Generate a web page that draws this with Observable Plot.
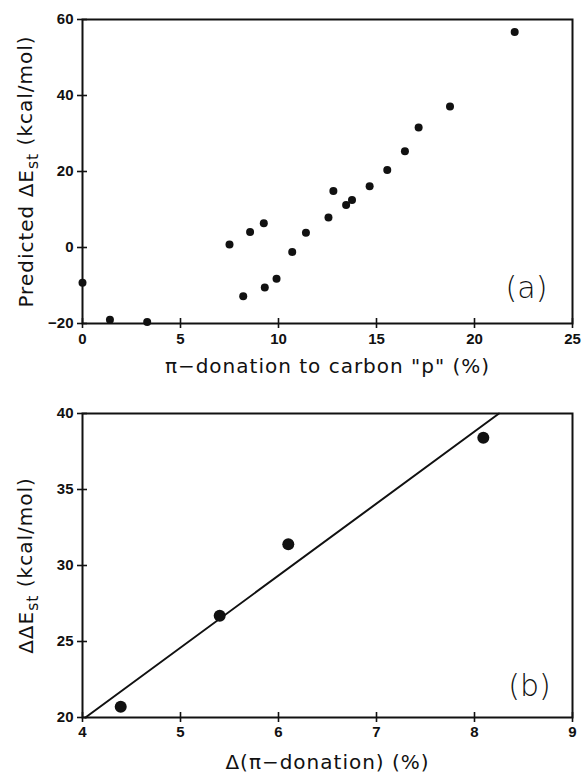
<!DOCTYPE html>
<html>
<head>
<meta charset="utf-8">
<script src="https://cdn.jsdelivr.net/npm/d3@7"></script>
<script src="https://cdn.jsdelivr.net/npm/@observablehq/plot@0.6"></script>
<style>
  body { margin: 0; background: #fff; }
  #chart { width: 583px; }
  #chart svg { display: block; background: #fff; }
  .biglabel { letter-spacing: 1px; }
</style>
</head>
<body>
<div id="chart"></div>
<script>
// ---- Panel (a) data ----
const aDonation = [0, 1.4, 3.3, 7.5, 8.2, 8.55, 9.25, 9.3, 9.9, 10.7, 11.4, 12.55, 12.8, 13.45, 13.75, 14.65, 15.55, 16.45, 17.15, 18.75, 22.05];
const aEnergy   = [-9.3, -19.0, -19.6, 0.8, -12.8, 4.1, 6.4, -10.5, -8.2, -1.2, 3.9, 7.9, 14.9, 11.2, 12.5, 16.1, 20.4, 25.3, 31.6, 37.1, 56.7];
const aXTicks = [0, 5, 10, 15, 20, 25];
const aYTicks = [-20, 0, 20, 40, 60];

// ---- Panel (b) data ----
const bDelta  = [4.39, 5.40, 6.10, 8.09];
const bEnergy = [20.7, 26.7, 31.4, 38.4];
const bFitX = [4.03, 8.25];
const bFitY = [20, 40];
const bXTicks = [4, 5, 6, 7, 8, 9];
const bYTicks = [20, 25, 30, 35, 40];

const INK = "#111";
const LABEL_FONT = "DejaVu Sans, sans-serif";
const TICK_FONT = "Liberation Sans, Arial, sans-serif";

function tickCrossesX(ticks, yAt) {
  return Plot.ruleX(ticks, {x: d => d, y1: () => yAt, y2: () => yAt, insetTop: -5, insetBottom: -5, stroke: INK, strokeWidth: 1.6});
}
function tickCrossesY(ticks, xAt) {
  return Plot.ruleY(ticks, {y: d => d, x1: () => xAt, x2: () => xAt, insetLeft: -5, insetRight: -5, stroke: INK, strokeWidth: 1.6});
}

function subscriptify(svg, full, before, sub, after) {
  d3.select(svg).selectAll("text").filter(function () { return this.textContent === full; }).each(function () {
    const t = d3.select(this);
    t.text(null);
    t.append("tspan").text(before);
    t.append("tspan").attr("dy", "0.3em").attr("font-size", "78%").text(sub);
    t.append("tspan").attr("dy", "-0.3em").text(after);
  });
}
function spaceLabels(svg, labels) {
  d3.select(svg).selectAll("text").filter(function () { return labels.includes(this.textContent); }).classed("biglabel", true);
}

const aXLabel = "π−donation to carbon \"p\" (%)";
const aYLabel = "Predicted ΔEst (kcal/mol)";
const aData = aDonation.map((x, i) => ({x, y: aEnergy[i]}));

const plotA = Plot.plot({
  width: 583, height: 390,
  marginLeft: 82, marginRight: 11, marginTop: 19, marginBottom: 67,
  style: {background: "#fff", color: INK},
  x: {domain: [0, 25]},
  y: {domain: [-20, 60]},
  marks: [
    Plot.frame({stroke: INK, strokeWidth: 2}),
    tickCrossesX(aXTicks, -20),
    tickCrossesY(aYTicks, 0),
    Plot.axisX(aXTicks, {tickSize: 0, tickPadding: 10, fontSize: 15, fontWeight: "bold", fontFamily: TICK_FONT, label: null}),
    Plot.axisY(aYTicks, {tickSize: 0, tickPadding: 9, fontSize: 15, fontWeight: "bold", fontFamily: TICK_FONT, label: null}),
    Plot.dot(aData, {x: "x", y: "y", r: 4, fill: INK, stroke: null}),
    Plot.text([aXLabel], {text: d => d, frameAnchor: "bottom", dy: 43, lineAnchor: "middle", fontSize: 20, fontFamily: LABEL_FONT, fill: INK}),
    Plot.text([aYLabel], {text: d => d, frameAnchor: "left", dx: -56, rotate: -90, textAnchor: "middle", lineAnchor: "middle", fontSize: 20, fontFamily: LABEL_FONT, fill: INK}),
    Plot.text(["(a)"], {text: d => d, frameAnchor: "bottom-right", dx: -46, dy: -35, textAnchor: "middle", lineAnchor: "middle", fontSize: 30, fontWeight: 300, fontFamily: LABEL_FONT, fill: INK})
  ]
});
spaceLabels(plotA, [aXLabel, aYLabel]);
subscriptify(plotA, aYLabel, "Predicted ΔE", "st", " (kcal/mol)");

const bXLabel = "Δ(π−donation) (%)";
const bYLabel = "ΔΔEst (kcal/mol)";
const bData = bDelta.map((x, i) => ({x, y: bEnergy[i]}));
const bFit = bFitX.map((x, i) => ({x, y: bFitY[i]}));

const plotB = Plot.plot({
  width: 583, height: 385,
  marginLeft: 82, marginRight: 11, marginTop: 23, marginBottom: 58,
  style: {background: "#fff", color: INK},
  x: {domain: [4, 9]},
  y: {domain: [20, 40]},
  marks: [
    Plot.frame({stroke: INK, strokeWidth: 2}),
    tickCrossesX(bXTicks, 20),
    tickCrossesY(bYTicks, 4),
    Plot.axisX(bXTicks, {tickSize: 0, tickPadding: 9, fontSize: 15, fontWeight: "bold", fontFamily: TICK_FONT, label: null}),
    Plot.axisY(bYTicks, {tickSize: 0, tickPadding: 9, fontSize: 15, fontWeight: "bold", fontFamily: TICK_FONT, label: null}),
    Plot.line(bFit, {x: "x", y: "y", stroke: INK, strokeWidth: 2}),
    Plot.dot(bData, {x: "x", y: "y", r: 6, fill: INK, stroke: null}),
    Plot.text([bXLabel], {text: d => d, frameAnchor: "bottom", dy: 45, lineAnchor: "middle", fontSize: 20, fontFamily: LABEL_FONT, fill: INK}),
    Plot.text([bYLabel], {text: d => d, frameAnchor: "left", dx: -56, rotate: -90, textAnchor: "middle", lineAnchor: "middle", fontSize: 20, fontFamily: LABEL_FONT, fill: INK}),
    Plot.text(["(b)"], {text: d => d, frameAnchor: "bottom-right", dx: -43, dy: -31, textAnchor: "middle", lineAnchor: "middle", fontSize: 30, fontWeight: 300, fontFamily: LABEL_FONT, fill: INK})
  ]
});
spaceLabels(plotB, [bXLabel, bYLabel]);
subscriptify(plotB, bYLabel, "ΔΔE", "st", " (kcal/mol)");

document.getElementById("chart").append(plotA, plotB);
</script>
</body>
</html>
